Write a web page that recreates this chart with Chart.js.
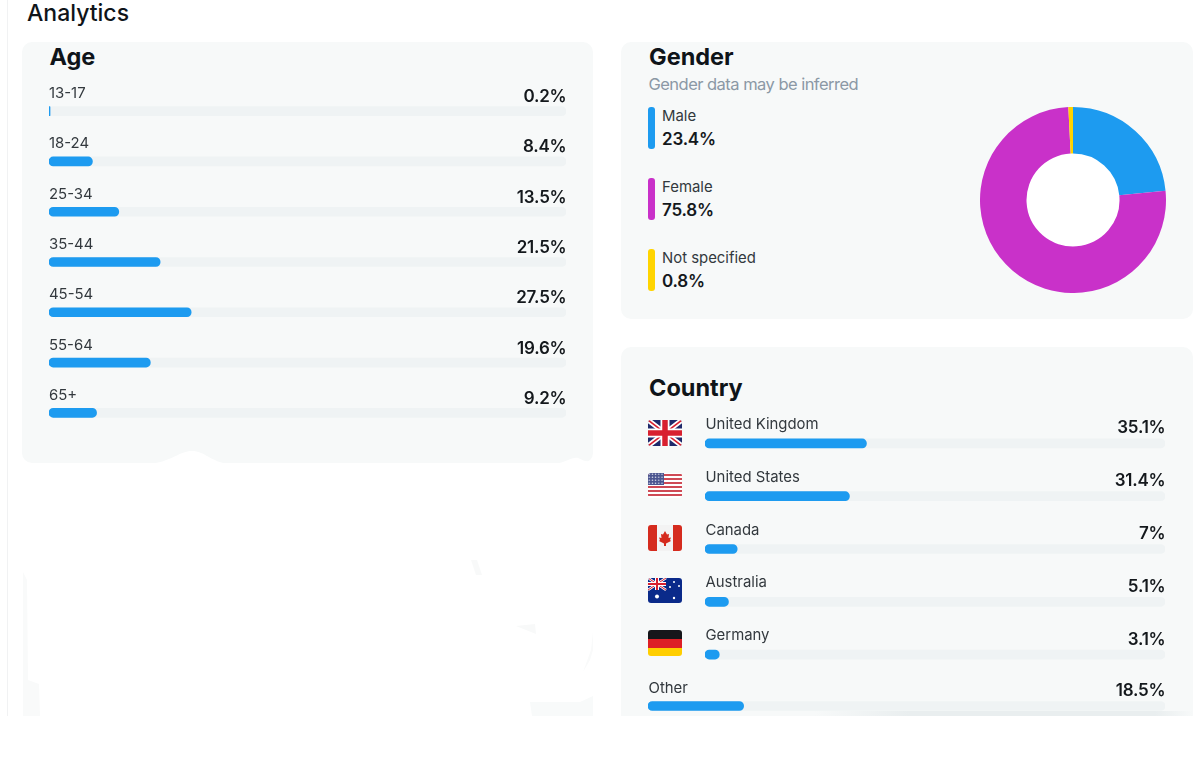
<!DOCTYPE html>
<html>
<head>
<meta charset="utf-8">
<title>Analytics</title>
<script src="https://cdn.jsdelivr.net/npm/chart.js@4"></script>
<style>
    html, body { margin: 0; padding: 0; background: #fff; }
    #page { position: relative; width: 1200px; height: 765px; overflow: hidden; font-family: Inter, "Noto Sans", sans-serif; color: #0f1419; }
    .panel { position: absolute; background: #f7f9f9; border-radius: 10px; }
    canvas { position: absolute; }
    .txt { position: absolute; white-space: nowrap; line-height: 24px; height: 24px; }
    .titulo { font-size: 23.5px; font-weight: 700; }
    .etiqueta { font-size: 14.9px; color: #33393e; }
    .valor { font-size: 17px; font-weight: 600; color: #14181c; letter-spacing: -0.2px; }
    .marca { position: absolute; left: 648px; width: 7px; height: 42px; border-radius: 3px; }
    svg.bandera { position: absolute; left: 648px; width: 34px; height: 26px; border-radius: 3px; }
</style>
</head>
<body>
<div id="page">
    <div style="position:absolute;left:7px;top:0;width:1px;height:716px;background:#f1f2f3"></div>
    <div class="panel" style="left:22px;top:42px;width:571px;height:421px"></div>
    <div class="panel" style="left:621px;top:42px;width:572px;height:277px"></div>
    <div class="panel" style="left:621px;top:347px;width:572px;height:369px;border-radius:10px 10px 0 0"></div>

    <!-- restos del panel tachado, abajo a la izquierda -->
    <svg style="position:absolute;left:0;top:0" width="1200" height="765">
        <path d="M150 464 C170 462 180 451 192 451 C204 451 212 462 228 464 Z" fill="#fff"/>
        <path d="M556 464 C566 462 572 457 578 458 C583 460 586 463 594 460 L594 464 Z" fill="#fff"/>
        <path d="M23 572 L27 580 L28 680 L39 684 L40 716 L23 716 Z" fill="#f9fafa"/>
        <path d="M530 702 L580 702 L593 696 L593 716 L532 716 Z" fill="#f8fafa"/>
        <path d="M471 560 L477 560 L482 575 L476 575 Z" fill="#f8f9f9"/>
        <path d="M516 626 L535 624 L536 634 Z" fill="#f8f9f9"/>
        <path d="M593 632 L591 650 L583 672 L590 660 L593 650 Z" fill="#f9fafa"/>
    </svg>

    <canvas id="ageChart" width="517" height="352" style="left:49px;top:86px"></canvas>
    <canvas id="genderChart" width="186" height="186" style="left:980px;top:106.5px"></canvas>
    <canvas id="countryChart" width="460" height="264" style="left:705px;top:417px"></canvas>
    <canvas id="otherChart" width="517" height="32" style="left:648px;top:690px"></canvas>

    <div style="position:absolute;left:815px;top:711px;width:378px;height:5px;background:linear-gradient(90deg,#f7f9f9,#e9eeef 25%,#e9eeef 90%,#f7f9f9)"></div>

    <div class="txt" style="left:27px;top:1px;font-size:23px;font-weight:500">Analytics</div>
    <div class="txt titulo" style="left:49.5px;top:45px">Age</div>
    <div class="txt titulo" style="left:649px;top:45px">Gender</div>
    <div class="txt" style="left:648.5px;top:72px;font-size:16.5px;color:#8b98a5;letter-spacing:-0.53px">Gender data may be inferred</div>
    <div class="txt titulo" style="left:649px;top:376px">Country</div>

    <svg class="bandera" style="top:420px" viewBox="0 0 34 26">
        <rect width="34" height="26" fill="#1f2a6b"/>
        <path d="M0 0L34 26M34 0L0 26" stroke="#fff" stroke-width="5"/>
        <path d="M0 0L34 26M34 0L0 26" stroke="#d8202f" stroke-width="1.6"/>
        <path d="M17 0V26M0 13H34" stroke="#fff" stroke-width="9"/>
        <path d="M17 0V26M0 13H34" stroke="#d8202f" stroke-width="5.5"/>
    </svg>
    <svg class="bandera" style="top:473px;height:25px" viewBox="0 0 34 25">
        <defs><pattern id="estrellas" width="3.2" height="3" patternUnits="userSpaceOnUse"><circle cx="1.2" cy="1.2" r="0.7" fill="#dfe2ee"/></pattern></defs>
        <rect width="34" height="25" fill="#fff"/>
        <path d="M0 2H34M0 6H34M0 10H34M0 14H34M0 18H34M0 22H34" stroke="#cf4a55" stroke-width="2"/>
        <rect width="16" height="12" fill="#4a5590"/>
        <rect width="16" height="12" fill="url(#estrellas)"/>
    </svg>
    <svg class="bandera" style="top:525px" viewBox="0 0 34 26">
        <rect width="34" height="26" fill="#f3f3f3"/>
        <rect width="9" height="26" fill="#d52b1e"/>
        <rect x="25" width="9" height="26" fill="#d52b1e"/>
        <path d="M17 6L19 9.5L21 9L20.5 13L23 12.5L22 15L23 16L18 18.5V21H16V18.5L11 16L12 15L11 12.5L13.5 13L13 9L15 9.5Z" fill="#d52b1e"/>
    </svg>
    <svg class="bandera" style="top:578px;height:25px" viewBox="0 0 34 25">
        <rect width="34" height="25" fill="#0a2a8a"/>
        <path d="M0 0L18 12M18 0L0 12" stroke="#fff" stroke-width="2.6"/>
        <path d="M0 0L18 12M18 0L0 12" stroke="#d8202f" stroke-width="1"/>
        <path d="M9 0V12M0 6H18" stroke="#fff" stroke-width="4"/>
        <path d="M9 0V12M0 6H18" stroke="#d8202f" stroke-width="2"/>
        <circle cx="9" cy="18.5" r="2" fill="#fff"/>
        <circle cx="26" cy="4" r="1" fill="#fff"/><circle cx="22" cy="9" r="1" fill="#fff"/>
        <circle cx="31" cy="8" r="1" fill="#fff"/><circle cx="26" cy="20" r="1.2" fill="#fff"/>
    </svg>
    <svg class="bandera" style="top:630px" viewBox="0 0 34 26">
        <rect width="34" height="9" fill="#16161a"/>
        <rect y="9" width="34" height="9" fill="#dd1f26"/>
        <rect y="18" width="34" height="8" fill="#ffce00"/>
    </svg>
</div>

<script>
// Datos
const edades = ['13-17', '18-24', '25-34', '35-44', '45-54', '55-64', '65+'];
const edadesPct = [0.2, 8.4, 13.5, 21.5, 27.5, 19.6, 9.2];
const edadesTexto = ['0.2%', '8.4%', '13.5%', '21.5%', '27.5%', '19.6%', '9.2%'];

const generos = ['Male', 'Female', 'Not specified'];
const generosPct = [23.4, 75.8, 0.8];
const generosTexto = ['23.4%', '75.8%', '0.8%'];
const generosColor = ['#1d9bf0', '#c931c9', '#ffd400'];

const paises = ['United Kingdom', 'United States', 'Canada', 'Australia', 'Germany'];
const paisesPct = [35.1, 31.4, 7, 5.1, 3.1];
const paisesTexto = ['35.1%', '31.4%', '7%', '5.1%', '3.1%'];

const otros = ['Other'];
const otrosPct = [18.5];
const otrosTexto = ['18.5%'];

const page = document.getElementById('page');

function ponerTexto(texto, clase, left, top, right) {
    const el = document.createElement('div');
    el.className = 'txt ' + clase;
    el.textContent = texto;
    el.style.top = top + 'px';
    if (right !== undefined) el.style.right = (1200 - right) + 'px';
    else el.style.left = left + 'px';
    page.appendChild(el);
}

// Barra sobre su pista gris, eje de 0 a 100
function crearBarras(id, etiquetas, valores) {
    const ctx = document.getElementById(id).getContext('2d');
    return new Chart(ctx, {
        type: 'bar',
        data: {
            labels: etiquetas,
            datasets: [{
                data: valores,
                backgroundColor: '#1d9bf0',
                barThickness: 9,
                borderRadius: 5,
                borderSkipped: false,
                grouped: false,
                order: 1
            }, {
                data: etiquetas.map(() => 100),
                backgroundColor: '#eff3f4',
                barThickness: 9,
                borderRadius: 5,
                borderSkipped: false,
                grouped: false,
                order: 2
            }]
        },
        options: {
            indexAxis: 'y',
            responsive: false,
            animation: false,
            layout: { padding: 0 },
            plugins: { legend: { display: false }, tooltip: { enabled: false } },
            scales: {
                x: { display: false, min: 0, max: 100 },
                y: { display: false }
            }
        }
    });
}

function ponerFilas(chart, canvasTop, etiquetas, textos, left, right, dyEtiqueta, dyValor) {
    etiquetas.forEach((nombre, i) => {
        const y = canvasTop + chart.scales.y.getPixelForValue(i);
        ponerTexto(nombre, 'etiqueta', left, y + dyEtiqueta);
        ponerTexto(textos[i], 'valor', 0, y + dyValor, right);
    });
}

const ageChart = crearBarras('ageChart', edades, edadesPct);
ponerFilas(ageChart, 86, edades, edadesTexto, 49, 566.5, -30, -27);

const countryChart = crearBarras('countryChart', paises, paisesPct);
ponerFilas(countryChart, 417, paises, paisesTexto, 705.5, 1165.5, -31.5, -28);

const otherChart = crearBarras('otherChart', otros, otrosPct);
ponerFilas(otherChart, 690, otros, otrosTexto, 648.5, 1165.5, -30, -28);

// Hueco blanco de la dona
const huecoBlanco = {
    id: 'huecoBlanco',
    beforeDatasetsDraw(chart) {
        const arco = chart.getDatasetMeta(0).data[0];
        const c = chart.ctx;
        c.save();
        c.fillStyle = '#fff';
        c.beginPath();
        c.arc(arco.x, arco.y, arco.innerRadius + 1, 0, Math.PI * 2);
        c.fill();
        c.restore();
    }
};

new Chart(document.getElementById('genderChart').getContext('2d'), {
    type: 'doughnut',
    data: {
        labels: generos,
        datasets: [{
            data: generosPct,
            backgroundColor: generosColor,
            borderWidth: 0
        }]
    },
    options: {
        responsive: false,
        animation: false,
        cutout: '50%',
        plugins: { legend: { display: false }, tooltip: { enabled: false } }
    },
    plugins: [huecoBlanco]
});

// Leyenda del genero
const leyendaTop = [107, 178, 249];
generos.forEach((nombre, i) => {
    const m = document.createElement('div');
    m.className = 'marca';
    m.style.top = leyendaTop[i] + 'px';
    m.style.background = generosColor[i];
    page.appendChild(m);
    ponerTexto(nombre, 'etiqueta', 662, leyendaTop[i] - 3);
    ponerTexto(generosTexto[i], 'valor', 662, leyendaTop[i] + 20);
});
</script>
</body>
</html>
